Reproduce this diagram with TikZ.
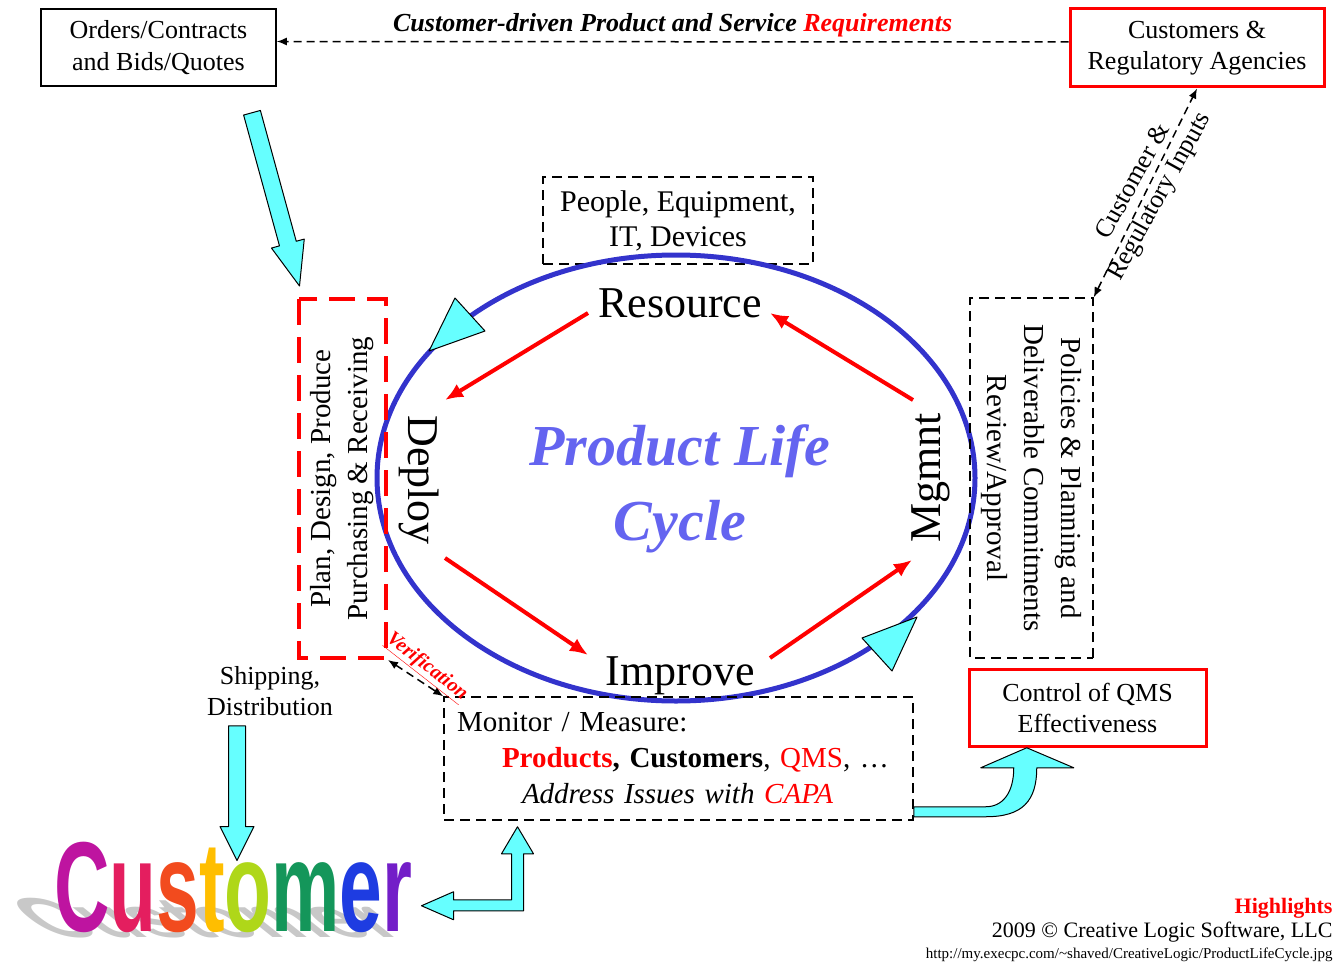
\documentclass[tikz,border=0pt]{standalone}
\usepackage{fontspec}
\setmainfont{Liberation Serif}
\newfontfamily\logofont{Liberation Sans}
\usetikzlibrary{shapes.geometric,arrows.meta,calc,positioning}

\definecolor{arrowcyan}{RGB}{102,255,255}
\definecolor{ringblue}{RGB}{51,51,204}
\definecolor{plcblue}{RGB}{100,100,240}
\definecolor{shadowgray}{RGB}{200,200,200}
\definecolor{lgC}{RGB}{190,20,160}
\definecolor{lgu}{RGB}{228,30,95}
\definecolor{lgs}{RGB}{242,75,30}
\definecolor{lgt}{RGB}{255,190,0}
\definecolor{lgo}{RGB}{175,215,25}
\definecolor{lgm}{RGB}{20,150,90}
\definecolor{lge}{RGB}{30,60,225}
\definecolor{lgr}{RGB}{115,30,200}

\tikzset{
    solidbox/.style={rectangle,draw=black,line width=1.5pt,align=center,font=\fontsize{26}{32}\selectfont},
    redbox/.style={rectangle,draw=red,line width=3pt,align=center,font=\fontsize{26}{31}\selectfont},
    dashbox/.style={rectangle,draw=black,line width=1.5pt,dash pattern=on 10pt off 6pt,align=center},
    planbox/.style={rectangle,draw=red,line width=4pt,dash pattern=on 26pt off 12pt,align=center},
    lifering/.style={ellipse,draw=ringblue,line width=5pt},
    stagelabel/.style={font=\fontsize{44}{50}\selectfont,inner sep=2pt},
    redarrow/.style={draw=red,line width=4pt,-{Latex[length=18pt,width=15pt]}},
    dasharrow/.style={draw=black,line width=1.5pt,dash pattern=on 8pt off 5pt},
    cyanarrow/.style={fill=arrowcyan,draw=black,line width=1pt,line join=round},
    veri/.style={text=red,font=\bfseries\itshape\fontsize{20}{22}\selectfont,inner sep=1pt},
    logotext/.style={inner sep=0pt,xscale=0.6,font=\logofont\bfseries\fontsize{128}{128}\selectfont},
}

% fat cyan arrow: start, tip, half shaft, half head, head length
\newcommand{\fatarrow}[5]{%
  \coordinate (fa-h) at ($(#2)!#5!(#1)$);
  \draw[cyanarrow] ($(#1)!#3!90:(#2)$) -- ($(fa-h)!#3!-90:(#1)$) -- ($(fa-h)!#4!-90:(#1)$)
    -- (#2) -- ($(fa-h)!#4!90:(#1)$) -- ($(fa-h)!#3!90:(#1)$) -- ($(#1)!#3!-90:(#2)$) -- cycle;
}

\begin{document}
\begin{tikzpicture}[x=1pt,y=-1pt,>={Latex[length=10pt,width=8pt]}]
\useasboundingbox (0,0) rectangle (1338,963);

% top row
\node[solidbox,minimum width=235pt,minimum height=77pt] (orders) at (158.5,47.5) {Orders/Contracts\\and Bids/Quotes};
\node[redbox,minimum width=254pt,minimum height=78pt] (agencies) at (1197,48) {Customers \&\\Regulatory Agencies};
\draw[dasharrow,->] ([yshift=6pt]agencies.west) -- ([yshift=6pt]orders.east)
  node[midway,above=1pt,font=\bfseries\itshape\fontsize{26}{30}\selectfont] {Customer-driven Product and Service \textcolor{red}{Requirements}};

% life cycle
\node[dashbox,minimum width=270pt,minimum height=87pt,font=\fontsize{30}{35}\selectfont] (inputs) at (678,220.5) {People, Equipment,\\IT, Devices};
\node[lifering,minimum width=598pt,minimum height=446pt] (ring) at (676,478) {};
\draw[cyanarrow] (429,351) -- (455,298) -- (485,331) -- cycle;
\draw[cyanarrow] (917,617) -- (862,638) -- (892,671) -- cycle;
\node[stagelabel] (resource) at (680,303) {Resource};
\node[stagelabel,rotate=-90] (deploy) at (419,480) {Deploy};
\node[stagelabel] (improve) at (680,676) {Improve};
\node[stagelabel,rotate=90] (mgmnt) at (931,478) {Mgmnt};
\node[text=plcblue,align=center,font=\bfseries\itshape\fontsize{58}{75}\selectfont] (plc) at (680,489) {Product Life\\Cycle};
\draw[redarrow] ([shift={(-92,10)}]resource.center) -- ([shift={(26,-80)}]deploy.center);
\draw[redarrow] ([shift={(26,78)}]deploy.center) -- ([shift={(-92,-21)}]improve.center);
\draw[redarrow] ([shift={(90,-18)}]improve.center) -- ([shift={(-19,82)}]mgmnt.center);
\draw[redarrow] ([shift={(-18,-78)}]mgmnt.center) -- ([shift={(90,10)}]resource.center);

% side boxes
\node[planbox,rotate=90,minimum width=359pt,minimum height=87pt,font=\fontsize{29}{37}\selectfont] (plan) at (342.5,478.5) {Plan, Design, Produce\\Purchasing \& Receiving};
\node[dashbox,rotate=-90,minimum width=360pt,minimum height=123pt,font=\fontsize{29}{37}\selectfont] (policies) at (1031.5,478) {Policies \& Planning and\\Deliverable Commitments\\Review/Approval};
\draw[dasharrow,<->] (policies.north west) -- (agencies.south)
  node[midway,rotate=61,xshift=4pt,align=center,font=\fontsize{26}{30}\selectfont] {Customer \&\\Regulatory Inputs};

% bottom
\node[dashbox,minimum width=469pt,minimum height=123pt,text width=443pt,inner xsep=13pt,align=left,font=\fontsize{29}{36}\selectfont] (monitor) at (678.5,758.5)
  {Monitor / Measure:\\ \hspace*{45pt}\textcolor{red}{\textbf{Products}}\textbf{, Customers}, \textcolor{red}{QMS}, \ldots\\ \hspace*{65pt}\textit{Address Issues with \textcolor{red}{CAPA}}};
\draw[dasharrow,<->] (plan.south west) -- (monitor.north west)
  node[veri,midway,rotate=-38,xshift=2pt,yshift=15pt] {\underline{Verification}};
\node[redbox,minimum width=237pt,minimum height=77pt] (control) at (1087.5,707.5) {Control of QMS\\Effectiveness};
\node[align=center,inner sep=2pt,font=\fontsize{26}{31}\selectfont] (shipping) at (270,691) {Shipping,\\Distribution};

% customer logo
\coordinate (logo) at (231.5,885.5);
\begin{scope}[shift={(50,937)},xslant=-1.25,yscale=0.44]
  \node[logotext,anchor=base west,transform shape,text=shadowgray] (logoshadow) at (0,0) {Customer};
\end{scope}
\node[logotext,anchor=base west] (customer) at (54,931)
  {\textcolor{lgC}{C}\textcolor{lgu}{u}\textcolor{lgs}{s}\textcolor{lgt}{t}\textcolor{lgo}{o}\textcolor{lgm}{m}\textcolor{lge}{e}\textcolor{lgr}{r}};

% cyan arrows
\coordinate (diag-a) at ([shift={(93.5,26)}]orders.south);
\coordinate (diag-b) at ([shift={(-43,-11)}]plan.east);
\fatarrow{diag-a}{diag-b}{8.7pt}{17pt}{44pt}
\coordinate (ship-a) at ([shift={(-33,8)}]shipping.south);
\coordinate (ship-b) at ([shift={(5.5,-25)}]logo);
\fatarrow{ship-a}{ship-b}{8.5pt}{17pt}{34pt}
\draw[cyanarrow] ([shift={(0,-4)}]monitor.south east) -- ++(72,0) .. controls +(37,0) and +(0,33) .. ++(51,-49)
  -- ++(37,0) -- ++(-47,-20) -- ++(-46,20) -- ++(33,0) .. controls +(0,25) and +(17,0) .. ++(-28,39) -- ++(-72,0) -- cycle;
\draw[cyanarrow] ([shift={(-161,6)}]monitor.south) -- ++(16,27) -- ++(-10,0) -- ++(0,57) -- ++(-70,0) -- ++(0,9)
  -- ++(-32,-14) -- ++(32,-14) -- ++(0,8) -- ++(58,0) -- ++(0,-46) -- ++(-10,0) -- cycle;

% credits
\node[anchor=base east,text=red,font=\bfseries\fontsize{22}{26}\selectfont] (highlights) at (1336,913) {Highlights};
\node[anchor=base east,font=\fontsize{22}{26}\selectfont] (copyright) at (1336,937) {2009 \textcopyright{} Creative Logic Software, LLC};
\node[anchor=base east,font=\fontsize{15}{18}\selectfont] (url) at (1336,958) {http://my.execpc.com/\textasciitilde shaved/CreativeLogic/ProductLifeCycle.jpg};
\end{tikzpicture}
\end{document}
